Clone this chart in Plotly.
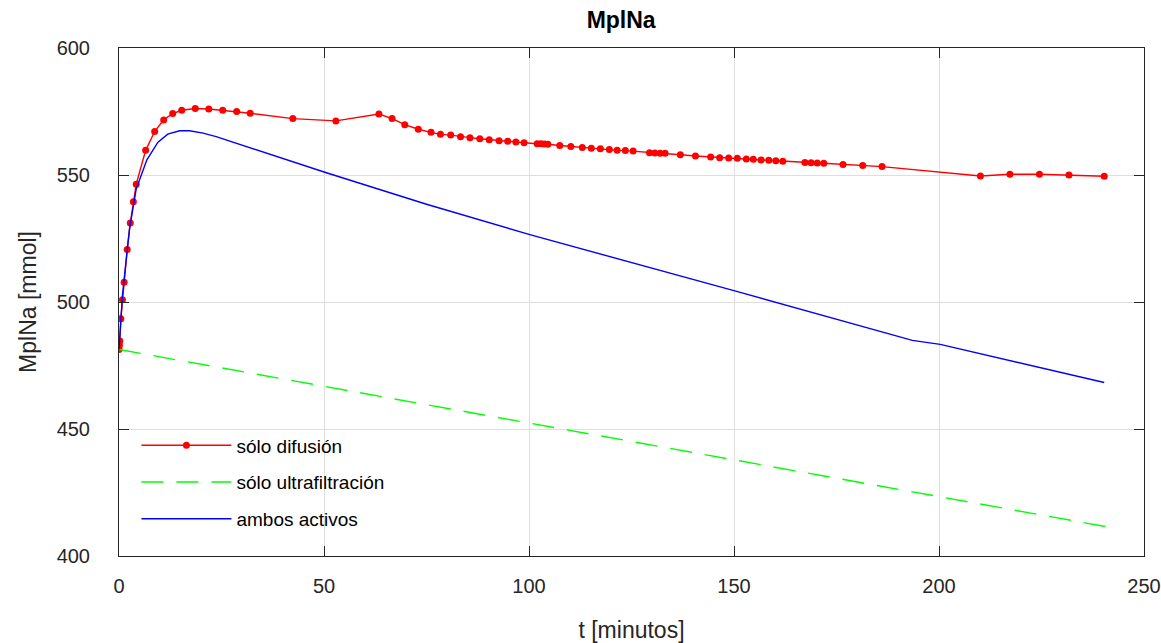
import plotly.graph_objects as go

# --- data ---
t_difusion = [0, 0.1, 0.2, 0.45, 0.85, 1.25, 2.0, 2.75, 3.5, 4.2,
              6.5, 8.7, 10.9, 13.1, 15.3, 18.6, 21.9, 25.3, 28.7, 32.0,
              42.4, 52.9, 63.4, 66.6, 69.7, 73.0, 76.1, 78.4, 80.9, 83.3,
              85.6, 88.0, 90.3, 92.7, 94.8, 96.8, 98.8, 102.0, 102.9, 103.7,
              104.6, 107.5, 110.2, 113.0, 115.2, 117.4, 119.6, 121.5, 123.5, 125.4,
              129.4, 130.7, 132.0, 133.2, 136.9, 140.6, 144.3, 146.5, 148.7, 150.8,
              153.0, 154.7, 156.6, 158.5, 160.2, 161.9, 167.3, 168.8, 170.3, 171.9,
              176.6, 181.4, 186.1, 210.1, 217.3, 224.5, 231.7, 240.3]
m_difusion = [481.3, 483.0, 484.6, 493.4, 500.9, 507.8, 520.7, 531.1, 539.5, 546.4,
              559.7, 567.1, 571.7, 574.2, 575.5, 576.2, 576.0, 575.5, 575.0, 574.3,
              572.2, 571.3, 574.0, 572.2, 569.8, 568.0, 566.8, 566.0, 565.7, 565.1,
              564.7, 564.3, 563.9, 563.5, 563.3, 563.0, 562.7, 562.3, 562.3, 562.2,
              562.1, 561.6, 561.2, 560.8, 560.5, 560.3, 560.0, 559.7, 559.6, 559.4,
              558.8, 558.7, 558.6, 558.6, 558.0, 557.5, 557.1, 556.8, 556.7, 556.6,
              556.3, 556.2, 555.9, 555.8, 555.6, 555.4, 554.9, 554.8, 554.7, 554.6,
              554.1, 553.7, 553.3, 549.6, 550.3, 550.3, 550.0, 549.5]

t_ultra = [0, 241]
m_ultra = [481.3, 411.5]

t_ambos = [0, 0.85, 2.56, 4.2, 6.8, 9.5, 11.9, 14.8, 17.2, 20.5, 23.7, 30.2,
           42.4, 50.2, 75, 100.2, 150.2, 168.6, 193.5, 200.3, 240.3]
m_ambos = [481.3, 502.8, 528.7, 544.5, 556.0, 562.9, 566.1, 567.4, 567.4, 566.5, 565.1, 561.6,
           555.0, 551.1, 538.5, 526.5, 504.4, 496.1, 484.9, 483.3, 468.3]

x_ticks = [0, 50, 100, 150, 200, 250]
y_ticks = [400, 450, 500, 550, 600]

FONT = "Liberation Sans, Arial, sans-serif"

fig = go.Figure()
fig.add_trace(go.Scatter(x=t_difusion, y=m_difusion, mode="lines+markers",
                         name="sólo difusión", legendgroup="a",
                         line=dict(color="#ff0000", width=1.4),
                         marker=dict(color="#ff0000", size=7)))
fig.add_trace(go.Scatter(x=t_ultra, y=m_ultra, mode="lines",
                         name="sólo ultrafiltración", legendgroup="b",
                         line=dict(color="#00ff00", width=1.4, dash="22px,13px")))
fig.add_trace(go.Scatter(x=t_ambos, y=m_ambos, mode="lines",
                         name="ambos activos", legendgroup="c",
                         line=dict(color="#0000ff", width=1.4)))

axis_common = dict(
    showline=True, linecolor="#262626", linewidth=1, mirror="ticks",
    ticks="inside", ticklen=10, tickcolor="#262626", tickwidth=1,
    showgrid=True, gridcolor="#dedede", gridwidth=1, zeroline=False,
    automargin=False,
    tickfont=dict(family=FONT, size=20, color="#262626"),
)

fig.update_layout(
    width=1161, height=643,
    paper_bgcolor="white", plot_bgcolor="white",
    margin=dict(l=119, r=17, t=48, b=87),
    title=dict(text="<b>MplNa</b>", x=0.535, xref="container", y=0.969,
               yref="container", xanchor="center", yanchor="middle",
               font=dict(family=FONT, size=23, color="black")),
    xaxis=dict(range=[0, 250], tickvals=x_ticks, ticklabelstandoff=12,
               title=dict(text="t [minutos]", standoff=25,
                          font=dict(family=FONT, size=23, color="#262626")),
               **axis_common),
    yaxis=dict(range=[400, 600], tickvals=y_ticks, ticklabelstandoff=24,
               title=dict(text="MplNa [mmol]", standoff=13,
                          font=dict(family=FONT, size=23, color="#262626")),
               **axis_common),
    legend=dict(x=0.017, y=0.255, xanchor="left", yanchor="top",
                bgcolor="rgba(0,0,0,0)", borderwidth=0,
                traceorder="grouped", tracegroupgap=9, itemwidth=90,
                font=dict(family=FONT, size=19, color="black")),
    showlegend=True,
)

fig.write_html("out.html")
